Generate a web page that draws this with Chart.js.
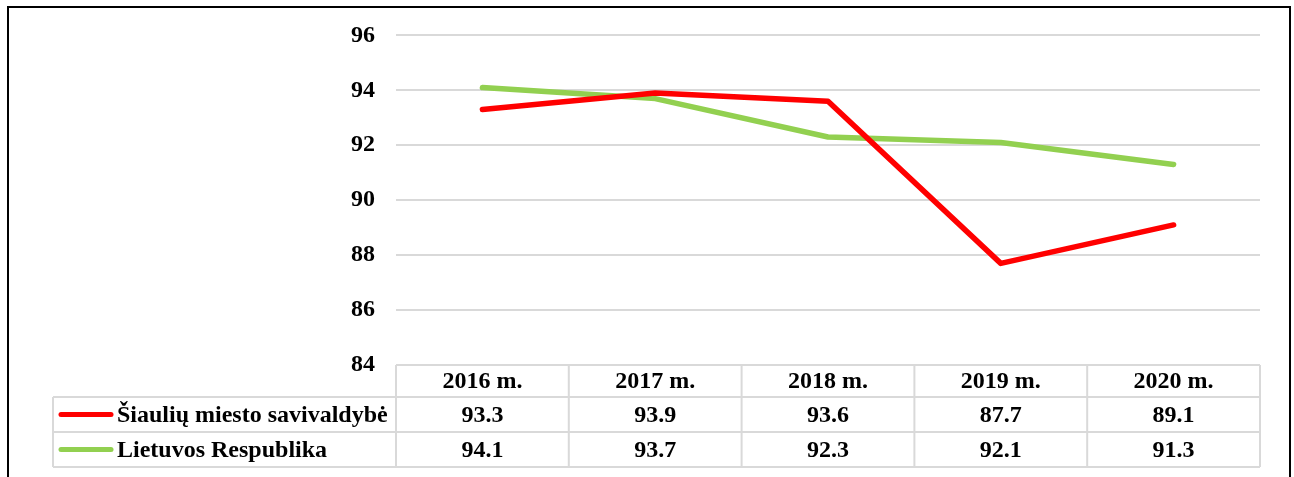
<!DOCTYPE html>
<html>
<head>
<meta charset="utf-8">
<script src="https://cdn.jsdelivr.net/npm/chart.js@4/dist/chart.umd.min.js"></script>
<style>
  html, body { margin: 0; padding: 0; background: #fff; overflow: hidden; }
  #frame { position: absolute; left: 7px; top: 6px; width: 1284px; height: 520px; border: 2.5px solid #000; box-sizing: border-box; }
  #wrap { position: absolute; left: 0; top: 0; width: 1294px; height: 477px; }
</style>
</head>
<body>
<div id="frame"></div>
<div id="wrap"><canvas id="c" width="1294" height="477"></canvas></div>
<script>
const categories = ['2016 m.', '2017 m.', '2018 m.', '2019 m.', '2020 m.'];
const seriesNames = ['Šiaulių miesto savivaldybė', 'Lietuvos Respublika'];
const siauliaiValues = [93.3, 93.9, 93.6, 87.7, 89.1];
const lietuvaValues = [94.1, 93.7, 92.3, 92.1, 91.3];
const yTicks = [84, 86, 88, 90, 92, 94, 96];

const FONT = '"Liberation Serif", "Times New Roman", serif';
const colors = ['#ff0000', '#92d050'];

const tablePlugin = {
  id: 'dataTable',
  afterDraw(chart) {
    const ctx = chart.ctx;
    const x = chart.scales.x;
    const area = chart.chartArea;
    const n = categories.length;
    const colW = (area.right - area.left) / n;
    const top = area.bottom;
    const headH = 32, rowH = 35;
    const legLeft = 53;
    const lineColor = '#d9d9d9';
    ctx.save();
    ctx.strokeStyle = lineColor;
    ctx.lineWidth = 2;
    ctx.beginPath();
    ctx.moveTo(area.left, top); ctx.lineTo(area.right, top);
    const r1 = top + headH, r2 = r1 + rowH, r3 = r2 + rowH;
    [r1, r2, r3].forEach(yy => { ctx.moveTo(legLeft, yy); ctx.lineTo(area.right, yy); });
    for (let i = 0; i <= n; i++) {
      const xx = area.left + i * colW;
      ctx.moveTo(xx, top); ctx.lineTo(xx, r3);
    }
    ctx.moveTo(legLeft, r1); ctx.lineTo(legLeft, r3);
    ctx.stroke();

    ctx.fillStyle = '#000';
    ctx.font = 'bold 24px ' + FONT;
    ctx.textAlign = 'center';
    ctx.textBaseline = 'middle';
    const data = [siauliaiValues, lietuvaValues];
    for (let i = 0; i < n; i++) {
      const cx = x.getPixelForValue(i);
      ctx.fillText(categories[i], cx, top + headH / 2 + 1);
      ctx.fillText(data[0][i].toFixed(1), cx, r1 + rowH / 2 + 1);
      ctx.fillText(data[1][i].toFixed(1), cx, r2 + rowH / 2 + 1);
    }
    ctx.textAlign = 'left';
    [r1, r2].forEach((yy, k) => {
      const cy = yy + rowH / 2;
      ctx.strokeStyle = colors[k];
      ctx.lineWidth = 5;
      ctx.lineCap = 'round';
      ctx.beginPath();
      ctx.moveTo(61, cy); ctx.lineTo(111, cy);
      ctx.stroke();
      ctx.fillText(seriesNames[k], 117, cy + 1);
    });
    ctx.restore();
  }
};

new Chart(document.getElementById('c'), {
  type: 'line',
  data: {
    labels: categories,
    datasets: [
      { label: seriesNames[0], data: siauliaiValues, borderColor: colors[0], backgroundColor: colors[0], borderWidth: 5.5, pointRadius: 0, tension: 0, borderCapStyle: 'round', borderJoinStyle: 'round' },
      { label: seriesNames[1], data: lietuvaValues, borderColor: colors[1], backgroundColor: colors[1], borderWidth: 5.5, pointRadius: 0, tension: 0, borderCapStyle: 'round', borderJoinStyle: 'round' }
    ]
  },
  options: {
    responsive: false,
    animation: false,
    layout: { padding: { left: 0, top: 35, right: 34, bottom: 112 } },
    plugins: { legend: { display: false }, tooltip: { enabled: false } },
    scales: {
      x: { display: false, offset: true },
      y: {
        min: 84, max: 96,
        afterBuildTicks: s => { s.ticks = yTicks.map(v => ({ value: v })); },
        afterFit: s => { s.width = 396; },
        border: { display: false },
        grid: { color: '#d9d9d9', lineWidth: 2, drawTicks: false },
        ticks: { padding: 21, color: '#000', font: { family: FONT, size: 24, weight: 'bold' } }
      }
    }
  },
  plugins: [tablePlugin]
});
</script>
</body>
</html>
